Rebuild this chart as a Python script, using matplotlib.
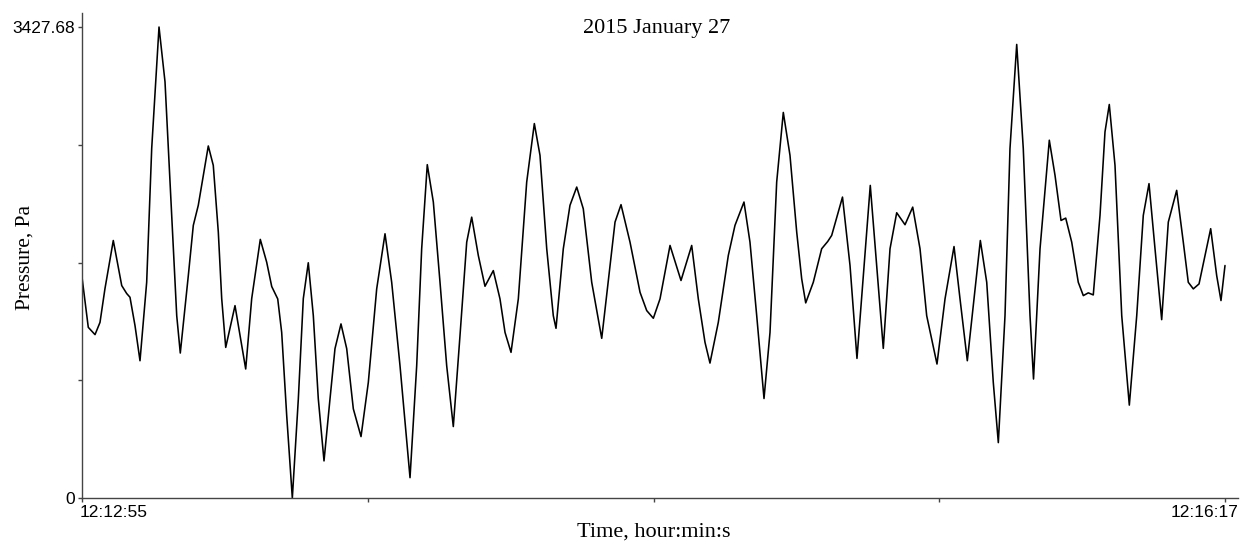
import matplotlib
matplotlib.use("Agg")
import matplotlib.pyplot as plt
import matplotlib.transforms as mtransforms
import numpy as np

# seconds after 12:12:55
t_sec = [0.0, 1.11, 2.30, 3.18, 4.06, 5.53, 7.02, 7.90, 8.48, 9.37,
         10.25, 11.43, 12.32, 13.61, 14.67, 15.85, 16.74, 17.37, 18.79, 19.67,
         20.55, 21.15, 22.32, 23.20, 24.09, 24.69, 25.40, 27.04, 28.93, 29.99,
         31.51, 32.64, 33.53, 34.59, 35.29, 36.18, 37.17, 38.23, 39.11, 39.99,
         40.88, 41.76, 42.77, 43.83, 44.71, 45.77, 46.78, 47.95, 49.31, 50.60,
         52.08, 53.55, 54.73, 56.20, 57.97, 59.15, 60.03, 61.02, 62.09, 63.27,
         64.45, 65.62, 66.80, 67.99, 68.87, 70.04, 71.22, 72.69, 73.87, 74.76,
         75.82, 77.11, 78.59, 79.94, 80.94, 82.13, 83.29, 83.77, 85.06, 86.24,
         87.43, 88.59, 90.08, 91.85, 93.31, 94.20, 95.26, 96.85, 98.62, 99.80,
         100.97, 102.15, 103.92, 105.86, 107.75, 108.92, 110.10, 110.98, 112.45, 114.22,
         115.40, 116.99, 118.05, 119.24, 120.53, 121.59, 122.77, 123.94, 125.12, 126.31,
         127.19, 127.90, 129.24, 130.72, 131.79, 132.49, 134.40, 135.73, 136.96, 139.31,
         140.45, 141.61, 142.80, 143.98, 145.45, 146.81, 148.10, 149.28, 151.10, 152.52,
         154.11, 155.17, 156.46, 158.76, 159.89, 161.05, 161.94, 163.12, 164.00, 165.19,
         166.35, 167.54, 168.16, 169.31, 170.95, 171.96, 173.02, 173.85, 174.91, 176.07,
         176.96, 177.84, 178.72, 179.91, 180.79, 181.55, 182.56, 183.75, 185.09, 186.40,
         187.56, 188.57, 189.63, 190.81, 191.98, 193.46, 194.63, 195.51, 196.40, 197.41,
         199.47, 200.53, 201.29, 202.0]

pressure = [1607, 1242, 1189, 1278, 1524, 1874, 1546, 1488, 1461, 1254,
            999, 1570, 2545, 3427.68, 3029, 2057, 1327, 1055, 1619, 1984,
            2130, 2275, 2562, 2421, 1935, 1451, 1096, 1400, 939, 1451,
            1882, 1716, 1539, 1449, 1205, 598, 0, 720, 1451, 1712,
            1327, 722, 270, 722, 1087, 1267, 1087, 649, 447, 841,
            1522, 1923, 1570, 963, 148, 963, 1814, 2426, 2154, 1570,
            963, 520, 1181, 1862, 2044, 1765, 1541, 1655, 1449, 1205,
            1060, 1449, 2299, 2725, 2494, 1814, 1327, 1235, 1814, 2130,
            2263, 2105, 1570, 1162, 1692, 2008, 2135, 1862, 1497, 1364,
            1308, 1449, 1838, 1583, 1838, 1449, 1133, 982, 1278, 1765,
            1984, 2154, 1862, 1327, 724, 1205, 2299, 2806, 2494, 1935,
            1595, 1420, 1570, 1814, 1867, 1911, 2190, 1692, 1016, 2275,
            1692, 1089, 1814, 2076, 1989, 2117, 1814, 1327, 975, 1449,
            1830, 1449, 999, 1874, 1570, 841, 403, 1327, 2543, 3301,
            2543, 1327, 866, 1814, 2604, 2348, 2020, 2037, 1862, 1570,
            1473, 1493, 1478, 2057, 2664, 2864, 2421, 1327, 676, 1327,
            2057, 2288, 1814, 1298, 2008, 2239, 1862, 1570, 1522, 1558,
            1960, 1619, 1437, 1692]

p_max = 3427.68
x_ticks = [0, 50.5, 101, 151.5, 202]
x_labels = ['12:12:55', '', '', '', '12:16:17']
y_ticks = [0, p_max / 4, p_max / 2, 3 * p_max / 4, p_max]
y_labels = ['0', '', '', '', '3427.68']

W, H = 1241, 543
fig = plt.figure(figsize=(W / 100, H / 100), dpi=100)
ax = fig.add_axes([82 / W, (H - 498) / H, (1238 - 82) / W, (498 - 13) / H])

ax.plot(t_sec, pressure, color='black', lw=1.15,
        solid_joinstyle='round', solid_capstyle='round')

ax.set_xlim(0, 202 + 13 * 202 / 1143)
ax.set_ylim(0, p_max + 14 * p_max / 470)

for side in ['top', 'right']:
    ax.spines[side].set_visible(False)
for side in ['left', 'bottom']:
    ax.spines[side].set_color('#444444')
    ax.spines[side].set_linewidth(1.0)

ax.set_xticks(x_ticks)
ax.set_xticklabels(x_labels, family='Liberation Sans', fontsize=12.5)
ax.set_yticks(y_ticks)
ax.set_yticklabels(y_labels, family='Liberation Sans', fontsize=12.5)
ax.tick_params(direction='out', length=3, width=1, color='#444444', pad=2)

xl = ax.get_xticklabels()
xl[0].set_ha('left')
xl[0].set_transform(xl[0].get_transform() + mtransforms.ScaledTranslation(-2 / 100, 0, fig.dpi_scale_trans))
xl[-1].set_ha('right')
xl[-1].set_transform(xl[-1].get_transform() + mtransforms.ScaledTranslation(13 / 100, 0, fig.dpi_scale_trans))

fig.text(657 / W, 1 - 28 / H, '2015 January 27', family='Liberation Serif',
         fontsize=16, ha='center', va='center')
fig.text(654 / W, 1 - 532 / H, 'Time, hour:min:s', family='Liberation Serif',
         fontsize=16, ha='center', va='center')
fig.text(25 / W, 1 - 257 / H, 'Pressure, Pa', family='Liberation Serif',
         fontsize=15.5, ha='center', va='center', rotation=90)

fig.savefig('out.png', dpi=100, facecolor='white')
